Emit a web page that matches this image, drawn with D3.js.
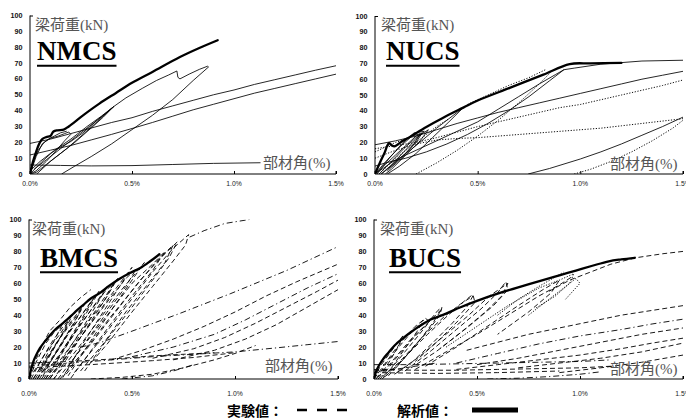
<!DOCTYPE html>
<html>
<head>
<meta charset="utf-8">
<script src="https://cdn.jsdelivr.net/npm/d3@7"></script>
<style>
  body { margin: 0; background: #fff; }
  svg { display: block; }
</style>
</head>
<body>
<svg id="chart" width="686" height="419"></svg>
<script>
// ---- axis contents ----
const xTickValues = [0, 0.5, 1.0, 1.5];
const xTickLabels = ["0.0%", "0.5%", "1.0%", "1.5%"];
const yTickValues = [0, 10, 20, 30, 40, 50, 60, 70, 80, 90, 100];
const specimenNames = ["NMCS", "NUCS", "BMCS", "BUCS"];
const loadTitle = "梁荷重(kN)";
const driftTitle = "部材角(%)";
const legendTestLabel = "実験値：";
const legendAnalysisLabel = "解析値：";

// ---- NMCS : drift angle (%) vs beam load (kN) ----
const nmcsAnalysis = [[0,0],[0.015,8],[0.03,14],[0.045,19],[0.06,22],[0.08,23.3],[0.1,24],[0.115,26.8],[0.135,27.6],[0.165,28],[0.19,30],[0.26,37],[0.34,44.4],[0.42,51],[0.5,57.5],[0.6,64.4],[0.735,73.8],[0.83,79.5],[0.92,84.4]];
const nmcsTest = [
  [[0,0],[0.02,9],[0.04,15],[0.07,20],[0.1,22.5],[0.14,24],[0.17,25.5],[0.19,26.5],[0.2,25],[0.17,21],[0.13,15],[0.08,8],[0.03,2],[0,0]],
  [[0,0],[0.03,11],[0.06,19],[0.09,22],[0.12,24],[0.15,26],[0.18,27]],
  [[0,2],[0.05,8],[0.1,13],[0.15,17],[0.2,20.5],[0.26,26],[0.33,34],[0.41,42.5],[0.36,36],[0.3,29],[0.22,20],[0.15,13],[0.08,6],[0.03,1],[0,0]],
  [[0,0],[0.06,8],[0.12,15],[0.2,22],[0.28,30],[0.35,36.5],[0.41,42.5],[0.37,38],[0.3,31],[0.23,24],[0.15,16],[0.08,9],[0.02,3]],
  [[0.033,0],[0.1,8],[0.18,16],[0.26,25],[0.33,33],[0.41,42.5],[0.47,48],[0.55,54],[0.62,59],[0.68,62.5],[0.72,65],[0.725,61],[0.735,60],[0.78,63],[0.83,66],[0.87,68],[0.875,67.5],[0.8,59],[0.7,47],[0.6,37],[0.5,28],[0.4,19],[0.3,11],[0.22,5],[0.155,0]],
  [[0,19.3],[0.1,22],[0.2,25.5],[0.3,29],[0.4,32.5],[0.5,35.5],[0.6,39.5],[0.7,43],[0.8,46.5],[0.9,50],[1.0,53],[1.1,56.5],[1.2,59.5],[1.3,62.5],[1.4,65.5],[1.5,68.3]],
  [[0,12],[0.1,15],[0.2,18],[0.3,21.5],[0.4,25],[0.5,28.7],[0.6,32.5],[0.7,36.5],[0.8,40.5],[0.9,44],[1.0,47.5],[1.1,51],[1.2,54],[1.3,57],[1.4,60],[1.5,63]],
  [[0,5.7],[0.15,5.4],[0.3,5.1],[0.5,5.3],[0.7,6],[0.9,6.7],[1.13,7.1]]
];

// ---- NUCS ----
const nucsAnalysis = [[0,0],[0.02,6],[0.045,13],[0.068,19.5],[0.08,18.3],[0.095,17.5],[0.13,20.5],[0.17,23.5],[0.25,29.8],[0.33,35.5],[0.43,42],[0.5,46.5],[0.656,54.5],[0.82,62.9],[0.948,69.6],[1.05,70],[1.2,70.3]];
const nucsTestSolid = [
  [[0,0],[0.05,6],[0.1,12],[0.15,18],[0.2,24],[0.23,26],[0.2,20],[0.14,12],[0.08,5],[0.03,0]],
  [[0.02,0],[0.08,8],[0.14,16],[0.2,23],[0.26,28],[0.22,21],[0.15,12],[0.08,3],[0.05,0]],
  [[0,0],[0.06,9],[0.12,17],[0.18,24],[0.22,25.5],[0.19,19],[0.13,10],[0.06,2]],
  [[0.01,0],[0.07,10],[0.13,19],[0.19,26],[0.24,27],[0.2,22],[0.14,14],[0.07,4]],
  [[0.03,0],[0.1,8],[0.2,18],[0.3,29],[0.38,37],[0.43,42],[0.36,33],[0.28,23],[0.2,13],[0.12,5],[0.06,0]],
  [[0,0],[0.1,9],[0.2,15],[0.3,21],[0.4,27],[0.5,33],[0.6,41],[0.7,49],[0.8,57],[0.88,63],[0.92,66]],
  [[0.92,66],[0.97,67],[1.1,69.5],[1.3,71.5],[1.5,72]],
  [[0.92,66],[0.85,59],[0.75,49],[0.65,40],[0.55,32],[0.45,25],[0.35,19],[0.25,14],[0.15,10],[0.05,7],[0,5]],
  [[0,18.5],[0.1,21],[0.2,24],[0.3,28],[0.4,32],[0.5,35.5],[0.6,39],[0.7,42],[0.8,45],[0.9,48],[1.0,51],[1.1,54],[1.2,57],[1.3,60],[1.4,62.5],[1.5,65]],
  [[0.746,0],[0.85,3.5],[1.0,9.5],[1.1,14],[1.2,19],[1.3,24.5],[1.4,30],[1.5,36]]
];
const nucsTestDotted = [
  [[0,16],[0.1,18],[0.2,20],[0.3,23],[0.4,26.5],[0.5,30],[0.6,33],[0.7,36],[0.8,39],[0.9,42],[1.0,44],[1.1,47],[1.2,50],[1.3,53],[1.4,56],[1.5,59.5]],
  [[0,10],[0.1,15],[0.2,19],[0.3,21.5],[0.4,22.5],[0.5,23],[0.6,24],[0.7,25],[0.8,26],[0.9,27],[1.0,28],[1.1,29],[1.2,30.5],[1.3,32],[1.4,33.5],[1.5,35]],
  [[0.97,0],[1.05,3],[1.15,8],[1.25,14],[1.35,21],[1.45,29],[1.5,34]],
  [[0.2,0],[0.3,7],[0.4,15],[0.5,24],[0.6,34],[0.7,45],[0.8,57],[0.86,65]],
  [[0.45,44],[0.55,50],[0.65,56],[0.75,61],[0.83,66]],
  [[0,14],[0.05,17],[0.1,20],[0.15,22]],
  [[0.02,0],[0.1,10],[0.2,20],[0.3,30],[0.36,35]]
];

// ---- BMCS ----
const bmcsAnalysis = [[0,0],[0.01,6],[0.021,10.9],[0.035,15],[0.053,19.3],[0.08,24],[0.118,29.8],[0.15,33.5],[0.183,37],[0.22,41.5],[0.264,46.5],[0.3,50.5],[0.345,54],[0.39,58.5],[0.44,62.9],[0.49,66.5],[0.54,69.6],[0.59,74],[0.633,78.2]];
const bmcsTestDashed = [
  [[0,0],[0.04,12],[0.08,22],[0.12,29],[0.16,34],[0.13,26],[0.09,16],[0.05,6],[0.02,0]],
  [[0,0],[0.05,10],[0.1,20],[0.15,28],[0.19,36],[0.16,28],[0.1,15],[0.05,5]],
  [[0.01,0],[0.06,12],[0.11,23],[0.16,32],[0.21,40],[0.18,32],[0.13,21],[0.08,10],[0.04,0]],
  [[0.02,0],[0.08,12],[0.14,24],[0.2,34],[0.25,43],[0.22,35],[0.16,22],[0.1,10],[0.05,2]],
  [[0.03,0],[0.09,13],[0.15,26],[0.21,37],[0.27,47],[0.23,38],[0.17,25],[0.11,12],[0.06,0]],
  [[0.04,0],[0.11,13],[0.18,27],[0.25,39],[0.3,48],[0.34,55],[0.3,46],[0.24,33],[0.17,18],[0.1,4]],
  [[0.05,0],[0.12,14],[0.19,28],[0.26,41],[0.32,52],[0.28,43],[0.22,30],[0.15,15],[0.08,0]],
  [[0.06,0],[0.14,14],[0.22,29],[0.3,43],[0.37,55],[0.41,60],[0.37,50],[0.3,38],[0.22,22],[0.14,6]],
  [[0.07,0],[0.15,15],[0.23,30],[0.31,45],[0.38,58],[0.33,47],[0.26,32],[0.18,16],[0.1,0]],
  [[0.08,0],[0.17,15],[0.26,31],[0.35,48],[0.43,63],[0.38,52],[0.3,36],[0.21,18],[0.12,0]],
  [[0.09,0],[0.19,16],[0.29,33],[0.39,50],[0.47,63],[0.52,69],[0.47,58],[0.38,42],[0.28,24],[0.18,6]],
  [[0.1,0],[0.2,17],[0.3,35],[0.4,53],[0.5,70],[0.45,60],[0.36,42],[0.26,22],[0.16,0]],
  [[0.12,0],[0.23,18],[0.34,37],[0.45,56],[0.56,73],[0.5,62],[0.41,45],[0.3,24],[0.19,2]],
  [[0.14,0],[0.26,20],[0.38,40],[0.5,60],[0.6,72],[0.66,80],[0.6,68],[0.5,52],[0.4,35],[0.28,14],[0.2,0]],
  [[0.15,0],[0.27,18],[0.39,38],[0.51,57],[0.62,74],[0.7,84],[0.66,73],[0.58,60],[0.47,42],[0.36,22],[0.25,5]],
  [[0.18,3],[0.3,22],[0.42,42],[0.54,62],[0.64,76],[0.72,86],[0.68,76],[0.6,62],[0.5,45],[0.38,25],[0.27,5]],
  [[0.22,4],[0.35,25],[0.48,47],[0.6,67],[0.7,82],[0.775,90.5],[0.76,84],[0.7,74],[0.6,58],[0.5,42],[0.38,22],[0.3,10]],
  [[0.02,8],[0.06,20],[0.1,30],[0.15,37],[0.2,45],[0.25,51],[0.3,56]],
  [[0.4,12],[0.55,18],[0.7,25],[0.85,33],[1.0,42],[1.15,52],[1.3,61],[1.5,72]],
  [[0.6,13],[0.8,19],[0.95,26],[1.1,35],[1.25,45],[1.4,55],[1.5,62]],
  [[0.7,12],[0.9,18],[1.05,25],[1.2,34],[1.35,45],[1.5,56]],
  [[0,10],[0.2,11],[0.4,12.5],[0.6,14.5],[0.75,15.5],[0.9,16.5]],
  [[0,7],[0.3,9],[0.6,11.5],[0.8,13.5],[1.0,16.5]],
  [[0.3,0],[0.45,1],[0.6,3],[0.75,7],[0.9,12],[1.0,16],[1.1,21]]
];
const bmcsTestDashDot = [
  [[0.25,20],[0.35,23],[0.5,30],[0.73,41],[0.98,53.6],[1.25,68],[1.5,83]],
  [[0.5,14],[0.7,20],[0.9,28],[1.05,37],[1.2,47],[1.35,57],[1.5,66]],
  [[0,8],[0.2,10],[0.4,12],[0.6,14],[0.8,15.5],[1.0,17],[1.2,19.5],[1.35,21.5],[1.5,23.5]],
  [[0.78,89],[0.85,93],[0.95,97.5],[1.07,100]],
  [[0.45,0],[0.6,2],[0.7,5],[0.8,9]]
];

// ---- BUCS ----
const bucsAnalysis = [[0,0],[0.008,4],[0.02,7.5],[0.044,12.5],[0.07,16.5],[0.1,21],[0.14,25.5],[0.18,29.5],[0.22,33],[0.27,37],[0.3,38.5],[0.35,41],[0.42,45],[0.5,49],[0.6,53.5],[0.7,57.5],[0.82,62],[0.9,65],[0.98,68],[1.06,71],[1.14,73.8],[1.2,75],[1.266,76]];
const bucsTestDashed = [
  [[0,0],[0.03,8],[0.07,15],[0.11,22],[0.14,27],[0.12,21],[0.08,12],[0.04,4],[0.01,0]],
  [[0,0],[0.05,9],[0.1,18],[0.15,26],[0.2,33],[0.25,38],[0.27,36],[0.22,28],[0.15,17],[0.08,6],[0.03,0]],
  [[0.01,0],[0.06,10],[0.12,20],[0.18,29],[0.24,37],[0.21,30],[0.15,19],[0.09,8],[0.04,0]],
  [[0.02,0],[0.1,13],[0.18,25],[0.26,35],[0.31,43],[0.33,45],[0.32,40],[0.26,30],[0.18,18],[0.1,6]],
  [[0.03,0],[0.1,12],[0.18,24],[0.26,35],[0.33,44],[0.29,36],[0.22,24],[0.14,12],[0.07,2]],
  [[0.05,1],[0.14,13],[0.24,27],[0.34,39],[0.42,47],[0.48,52],[0.45,45],[0.38,35],[0.28,22],[0.18,10],[0.1,3]],
  [[0.06,2],[0.16,15],[0.26,28],[0.36,40],[0.44,49],[0.48,53],[0.49,48],[0.42,38],[0.32,25],[0.2,11]],
  [[0.1,3],[0.22,14],[0.34,27],[0.46,40],[0.56,52],[0.65,60],[0.62,52],[0.54,42],[0.42,29],[0.3,17],[0.18,7]],
  [[0.15,5],[0.28,18],[0.4,31],[0.52,44],[0.6,54],[0.64,61],[0.65,56],[0.58,46],[0.46,33],[0.32,19]],
  [[0.2,6],[0.35,17],[0.5,28],[0.65,40],[0.8,52],[0.9,59],[0.96,64]],
  [[0.25,8],[0.4,20],[0.55,33],[0.7,46],[0.82,56],[0.9,62],[0.86,54],[0.75,42],[0.6,28]],
  [[0.85,55],[0.95,62],[1.05,67],[1.15,72],[1.27,76],[1.4,78.5],[1.5,80]],
  [[0.45,18],[0.6,23],[0.75,28],[0.9,32],[1.05,36],[1.2,40],[1.35,43],[1.5,46]],
  [[0.5,9],[0.7,13],[0.9,18],[1.1,23],[1.3,28],[1.5,32]],
  [[0.4,6],[0.6,9],[0.8,12],[1.0,15],[1.2,19],[1.35,22.5],[1.5,25.6]],
  [[0.7,7],[0.9,10],[1.1,13],[1.3,17],[1.5,22.5]],
  [[0.9,4],[1.1,7],[1.3,10.5],[1.5,15]],
  [[0,6],[0.2,5.5],[0.4,5.5],[0.6,6],[0.8,6.5],[1.0,7],[1.15,8]],
  [[0,4],[0.3,3.5],[0.6,4],[0.9,5]],
  [[0,5],[0.1,6],[0.2,8],[0.3,10]]
];
const bucsTestDotted = [
  [[0.35,20],[0.5,33],[0.65,46],[0.8,57],[0.9,62],[0.97,66],[0.95,60],[0.88,52],[0.78,44]],
  [[0.6,40],[0.7,50],[0.8,58],[0.88,64],[0.92,67]],
  [[0.75,40],[0.85,50],[0.92,57],[0.98,63],[1.0,60],[0.93,50]]
];
const bucsTestDashDot = [
  [[0.4,10],[0.6,16],[0.8,22],[1.0,27],[1.2,31],[1.35,34.5],[1.5,37.5]],
  [[0,9],[0.2,9],[0.4,9.5],[0.6,10],[0.8,10.5],[1.0,11],[1.15,12]],
  [[0.55,0],[0.7,0.5],[0.85,1.5],[1.0,3],[1.1,4.5]]
];

// ---- line styles for each kind of test record ----
const strokeStyles = {
  solid:   { width: 0.85, dash: null },
  dotted:  { width: 0.95, dash: "1.2,1.6" },
  dashed:  { width: 0.9, dash: "5,3" },
  dashdot: { width: 0.9, dash: "6,3,1.2,3" }
};

// ---- panel layout ----
const panels = [
  { name: specimenNames[0], analysis: nmcsAnalysis,
    tests: [["solid", nmcsTest]],
    left: 30, right: 336, top: 15.5, bottom: 174, xLabelY: 183,
    nameX: 37, nameY: 60, yTitleX: 35, yTitleY: 24.5, xTitleX: 263, xTitleY: 162.5 },
  { name: specimenNames[1], analysis: nucsAnalysis,
    tests: [["solid", nucsTestSolid], ["dotted", nucsTestDotted]],
    left: 375, right: 683, top: 16, bottom: 174, xLabelY: 183,
    nameX: 386, nameY: 60, yTitleX: 381, yTitleY: 24.5, xTitleX: 610, xTitleY: 164 },
  { name: specimenNames[2], analysis: bmcsAnalysis,
    tests: [["dashed", bmcsTestDashed], ["dashdot", bmcsTestDashDot]],
    left: 29, right: 338, top: 219.5, bottom: 379, xLabelY: 393,
    nameX: 40, nameY: 266.5, yTitleX: 32, yTitleY: 229, xTitleX: 265, xTitleY: 365.5 },
  { name: specimenNames[3], analysis: bucsAnalysis,
    tests: [["dashed", bucsTestDashed], ["dotted", bucsTestDotted], ["dashdot", bucsTestDashDot]],
    left: 374, right: 683, top: 219.5, bottom: 379, xLabelY: 393,
    nameX: 389, nameY: 266.5, yTitleX: 380, yTitleY: 229, xTitleX: 610, xTitleY: 369 }
];

const svg = d3.select("#chart");
const defs = svg.append("defs");
const serifCJK = "'Liberation Serif', 'Times New Roman', 'Noto Sans CJK JP', serif";

panels.forEach((p, i) => {
  const x = d3.scaleLinear().domain([0, 1.5]).range([p.left, p.right]);
  const y = d3.scaleLinear().domain([0, 100]).range([p.bottom, p.top]);
  const g = svg.append("g");

  defs.append("clipPath").attr("id", "plot" + i)
    .append("rect")
    .attr("x", p.left).attr("y", p.top)
    .attr("width", p.right - p.left).attr("height", p.bottom - p.top);

  const line = d3.line().x(d => x(d[0])).y(d => y(d[1]));
  const smooth = d3.line().x(d => x(d[0])).y(d => y(d[1])).curve(d3.curveCatmullRom.alpha(0.5));

  const plot = g.append("g").attr("clip-path", `url(#plot${i})`);

  // measured hysteresis records
  p.tests.forEach(([kind, records]) => {
    const st = strokeStyles[kind];
    plot.append("g").selectAll("path").data(records).join("path")
      .attr("d", line)
      .attr("fill", "none")
      .attr("stroke", "#000")
      .attr("stroke-width", st.width)
      .attr("stroke-dasharray", st.dash)
      .attr("stroke-linejoin", "round");
  });

  // analysis envelope
  plot.append("path").datum(p.analysis)
    .attr("d", smooth)
    .attr("fill", "none")
    .attr("stroke", "#000")
    .attr("stroke-width", 2.3)
    .attr("stroke-linejoin", "round")
    .attr("stroke-linecap", "round");

  // x axis: ticks pointing inward
  const xAxis = d3.axisBottom(x).tickValues(xTickValues).tickSize(-3).tickFormat("");
  const xa = g.append("g").attr("transform", `translate(0,${p.bottom})`).call(xAxis);
  xa.select(".domain").attr("d", `M${p.left},-3V0H${p.right}V-3`).attr("stroke", "#000").attr("stroke-width", 1);
  xa.selectAll(".tick line").attr("stroke", "#000");

  g.append("g").selectAll("text").data(xTickValues).join("text")
    .attr("x", d => x(d))
    .attr("y", p.xLabelY)
    .attr("text-anchor", "middle")
    .attr("dominant-baseline", "central")
    .attr("font-family", "'Liberation Sans', Arial, sans-serif")
    .attr("font-size", 6.8)
    .attr("fill", "#222")
    .text((d, k) => xTickLabels[k]);

  // y axis
  const yAxis = d3.axisLeft(y).tickValues([100]).tickSize(-3).tickFormat("");
  const ya = g.append("g").attr("transform", `translate(${p.left},0)`).call(yAxis);
  ya.select(".domain").attr("d", `M0,${p.top}V${p.bottom}`).attr("stroke", "#000").attr("stroke-width", 1);
  ya.selectAll(".tick line").attr("stroke", "#000");

  g.append("g").selectAll("text").data(yTickValues).join("text")
    .attr("x", p.left - 7.5)
    .attr("y", d => y(d))
    .attr("text-anchor", "end")
    .attr("dominant-baseline", "central")
    .attr("font-family", "'Liberation Sans', Arial, sans-serif")
    .attr("font-weight", "bold")
    .attr("font-size", 7.2)
    .attr("fill", "#111")
    .text(d => d);

  // axis titles
  g.append("text")
    .attr("x", p.yTitleX).attr("y", p.yTitleY)
    .attr("dominant-baseline", "central")
    .attr("font-family", serifCJK)
    .attr("font-size", 15)
    .attr("fill", "#555")
    .text(loadTitle);

  g.append("text")
    .attr("x", p.xTitleX).attr("y", p.xTitleY)
    .attr("dominant-baseline", "central")
    .attr("font-family", serifCJK)
    .attr("font-size", 15)
    .attr("fill", "#555")
    .text(driftTitle);

  // specimen name, underlined
  const nm = g.append("text")
    .attr("x", p.nameX).attr("y", p.nameY)
    .attr("font-family", "'Liberation Serif', 'Times New Roman', serif")
    .attr("font-weight", "bold")
    .attr("font-size", 27)
    .attr("fill", "#000")
    .text(p.name);
  const w = nm.node().getComputedTextLength();
  g.append("line")
    .attr("x1", p.nameX).attr("x2", p.nameX + w)
    .attr("y1", p.nameY + 5.8).attr("y2", p.nameY + 5.8)
    .attr("stroke", "#000").attr("stroke-width", 2);
});

// ---- legend ----
const legend = svg.append("g")
  .attr("font-family", "'Noto Sans CJK JP', sans-serif")
  .attr("font-weight", "bold")
  .attr("font-size", 14)
  .attr("fill", "#000");

legend.append("text").attr("x", 227).attr("y", 410).attr("dominant-baseline", "central").text(legendTestLabel);
legend.append("line")
  .attr("x1", 297).attr("x2", 347).attr("y1", 410).attr("y2", 410)
  .attr("stroke", "#000").attr("stroke-width", 2.4).attr("stroke-dasharray", "10,10");

legend.append("text").attr("x", 397).attr("y", 410).attr("dominant-baseline", "central").text(legendAnalysisLabel);
legend.append("line")
  .attr("x1", 472).attr("x2", 518).attr("y1", 410).attr("y2", 410)
  .attr("stroke", "#000").attr("stroke-width", 5);
</script>
</body>
</html>
